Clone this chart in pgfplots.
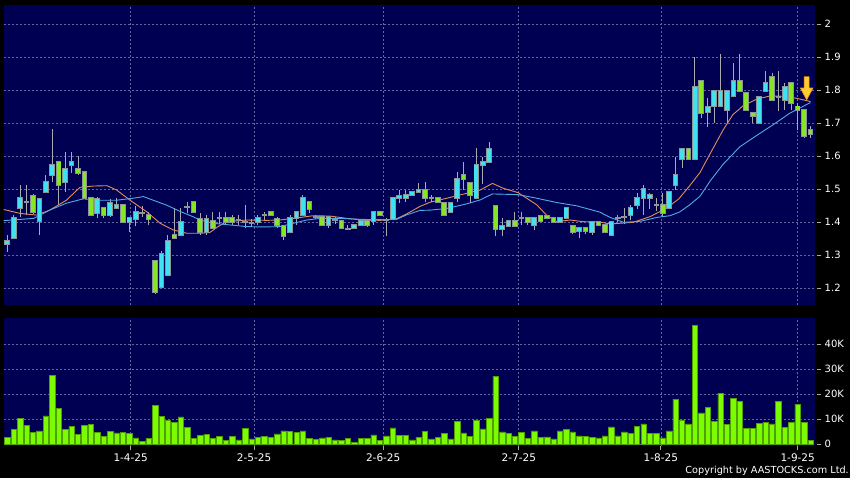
\documentclass[border=0pt]{standalone}
\usepackage{fontspec}
\setmainfont{DejaVu Sans}
\usepackage{pgfplots}
\pgfplotsset{compat=1.18}
\usepackage{pgfplotstable}

\definecolor{navy}{RGB}{0,0,82}
\definecolor{gridc}{RGB}{100,100,165}
\definecolor{upc}{RGB}{64,226,242}
\definecolor{dnc}{RGB}{135,230,35}
\definecolor{bordc}{RGB}{140,150,150}
\definecolor{wickc}{RGB}{170,170,175}
\definecolor{volc}{RGB}{124,252,0}
\definecolor{vold}{RGB}{80,160,0}
\definecolor{maor}{RGB}{230,140,90}
\definecolor{mabl}{RGB}{80,170,230}
\definecolor{gold}{RGB}{255,204,51}
\definecolor{goldd}{RGB}{235,150,20}
\definecolor{tickc}{RGB}{170,170,170}

% up (cyan) candles and dojis: i bodylow bodyhigh low high
\pgfplotstableread{
i lo hi wl wh
0 1.333 1.342 1.310 1.360
1 1.351 1.411 1.351 1.421
2 1.442 1.472 1.416 1.512
3 1.462 1.462 1.421 1.512
5 1.403 1.471 1.361 1.471
6 1.490 1.521 1.490 1.542
7 1.542 1.572 1.522 1.681
9 1.520 1.560 1.492 1.613
10 1.572 1.582 1.548 1.611
14 1.428 1.471 1.411 1.475
16 1.421 1.459 1.415 1.470
17 1.442 1.451 1.442 1.472
19 1.401 1.411 1.371 1.415
20 1.409 1.429 1.388 1.448
21 1.428 1.428 1.416 1.448
24 1.202 1.302 1.200 1.312
25 1.239 1.342 1.239 1.361
27 1.361 1.401 1.358 1.442
28 1.445 1.445 1.426 1.462
31 1.371 1.409 1.361 1.420
33 1.411 1.411 1.395 1.431
36 1.405 1.405 1.390 1.420
37 1.401 1.401 1.381 1.452
38 1.396 1.396 1.385 1.410
39 1.401 1.411 1.391 1.421
40 1.421 1.421 1.406 1.431
44 1.371 1.411 1.366 1.421
45 1.411 1.431 1.391 1.431
46 1.421 1.472 1.421 1.482
48 1.415 1.415 1.408 1.422
50 1.391 1.416 1.382 1.416
51 1.405 1.405 1.395 1.415
53 1.380 1.380 1.378 1.390
54 1.382 1.392 1.382 1.392
55 1.392 1.404 1.390 1.410
57 1.404 1.430 1.392 1.430
59 1.407 1.407 1.358 1.412
60 1.408 1.472 1.405 1.472
61 1.472 1.480 1.458 1.498
62 1.473 1.481 1.460 1.498
63 1.481 1.491 1.480 1.491
64 1.490 1.498 1.490 1.517
66 1.472 1.472 1.462 1.482
69 1.431 1.459 1.431 1.459
70 1.472 1.529 1.462 1.553
73 1.472 1.573 1.472 1.623
74 1.573 1.581 1.515 1.598
75 1.581 1.621 1.581 1.641
77 1.379 1.389 1.358 1.411
78 1.389 1.403 1.389 1.403
80 1.411 1.411 1.391 1.431
82 1.391 1.411 1.376 1.411
86 1.401 1.411 1.400 1.411
87 1.411 1.441 1.411 1.441
89 1.373 1.381 1.350 1.381
91 1.371 1.401 1.361 1.401
94 1.361 1.401 1.361 1.401
95 1.411 1.411 1.400 1.421
96 1.414 1.414 1.395 1.441
97 1.421 1.441 1.405 1.451
98 1.452 1.472 1.440 1.487
99 1.472 1.499 1.421 1.512
100 1.472 1.482 1.440 1.487
101 1.452 1.452 1.432 1.472
103 1.441 1.492 1.441 1.492
104 1.512 1.542 1.497 1.598
105 1.590 1.620 1.563 1.620
107 1.590 1.810 1.590 1.900
109 1.732 1.749 1.689 1.775
110 1.752 1.798 1.700 1.798
111 1.752 1.798 1.750 1.909
112 1.739 1.798 1.700 1.798
113 1.782 1.828 1.780 1.881
117 1.701 1.778 1.701 1.778
118 1.798 1.820 1.798 1.859
120 1.780 1.780 1.735 1.859
121 1.770 1.810 1.740 1.820
}\upt

% down (green) candles
\pgfplotstableread{
i lo hi wl wh
4 1.429 1.480 1.425 1.485
8 1.512 1.581 1.452 1.585
11 1.549 1.561 1.542 1.600
12 1.472 1.551 1.472 1.551
13 1.421 1.472 1.421 1.472
15 1.421 1.442 1.411 1.442
18 1.401 1.451 1.401 1.451
22 1.410 1.420 1.390 1.430
23 1.189 1.282 1.182 1.282
26 1.351 1.361 1.350 1.442
29 1.429 1.460 1.429 1.460
30 1.371 1.409 1.361 1.426
32 1.383 1.403 1.383 1.431
34 1.401 1.411 1.390 1.430
35 1.401 1.411 1.390 1.420
41 1.421 1.429 1.421 1.429
42 1.391 1.409 1.381 1.416
43 1.359 1.389 1.345 1.389
47 1.439 1.460 1.426 1.460
49 1.391 1.416 1.391 1.416
52 1.382 1.402 1.382 1.402
56 1.392 1.404 1.385 1.404
58 1.420 1.430 1.420 1.430
65 1.472 1.498 1.462 1.522
67 1.462 1.472 1.462 1.472
68 1.421 1.459 1.421 1.459
71 1.529 1.542 1.497 1.583
72 1.482 1.519 1.459 1.519
76 1.379 1.449 1.358 1.449
79 1.389 1.403 1.387 1.431
81 1.401 1.411 1.391 1.411
83 1.403 1.419 1.400 1.419
84 1.411 1.419 1.411 1.419
85 1.401 1.411 1.400 1.411
88 1.371 1.389 1.365 1.389
90 1.373 1.381 1.365 1.381
92 1.391 1.401 1.391 1.401
93 1.371 1.391 1.368 1.391
102 1.426 1.452 1.416 1.489
106 1.590 1.620 1.590 1.620
108 1.729 1.828 1.715 1.828
114 1.798 1.828 1.798 1.909
115 1.739 1.790 1.739 1.790
116 1.721 1.729 1.700 1.729
119 1.770 1.838 1.770 1.850
122 1.760 1.820 1.740 1.820
123 1.740 1.750 1.680 1.760
124 1.661 1.740 1.655 1.740
125 1.668 1.678 1.655 1.690
}\dnt

% volume in thousands
\pgfplotstableread{
i v
0 2.7
1 5.9
2 10.1
3 7.3
4 4.7
5 5.2
6 11.2
7 27.3
8 14.1
9 5.9
10 7.0
11 3.9
12 7.5
13 7.8
14 4.7
15 3.1
16 5.0
17 4.4
18 4.6
19 4.2
20 2.4
21 1.1
22 2.2
23 15.5
24 10.9
25 9.3
26 8.6
27 10.8
28 6.6
29 2.2
30 3.5
31 3.9
32 2.3
33 3.1
34 1.3
35 3.0
36 1.6
37 6.3
38 2.0
39 2.7
40 3.0
41 2.7
42 4.0
43 5.2
44 5.0
45 4.7
46 5.2
47 2.3
48 1.9
49 2.4
50 2.7
51 1.6
52 1.3
53 2.3
54 0.7
55 2.3
56 2.2
57 3.6
58 1.3
59 3.2
60 6.4
61 3.3
62 3.5
63 1.6
64 2.6
65 5.1
66 2.0
67 2.7
68 4.3
69 2.0
70 9.0
71 4.4
72 3.1
73 9.4
74 6.0
75 10.2
76 27.0
77 4.8
78 4.3
79 3.1
80 4.7
81 2.3
82 5.2
83 2.6
84 2.8
85 2.0
86 5.2
87 5.8
88 4.8
89 3.2
90 3.0
91 2.7
92 2.4
93 3.2
94 6.8
95 3.2
96 4.8
97 4.3
98 6.9
99 8.0
100 4.3
101 4.1
102 2.4
103 5.2
104 17.9
105 9.6
106 8.0
107 47.5
108 12.4
109 14.7
110 9.1
111 20.3
112 7.7
113 18.1
114 16.9
115 6.1
116 6.3
117 8.3
118 8.5
119 8.0
120 17.1
121 6.7
122 8.5
123 15.9
124 8.7
125 1.3
}\volt

\pgfplotsset{
  wick/.style={draw=none, mark=none, error bars/.cd, y dir=plus, y explicit, error mark=none,
    error bar style={wickc, line width=0.9pt}},
  bodyo/.style={draw=none, mark=none, error bars/.cd, y dir=plus, y explicit, error mark=none,
    error bar style={bordc, line width=5.6pt}},
  bodyi/.style={draw=none, mark=none, error bars/.cd, y dir=plus, y explicit, error mark=none,
    error bar style={#1, line width=3.8pt}},
  chartbase/.style={
    scale only axis, anchor=south west, width=811.2pt,
    xmin=-0.59, xmax=125.65,
    axis background/.style={fill=navy},
    axis line style={draw=none},
    xtick={19.2,38.4,58.5,79.6,101.7,123.0},
    xmajorgrids, ymajorgrids,
    grid style={gridc, dash pattern=on 2pt off 2pt, line width=0.6pt},
    ytick pos=right, yticklabel pos=right,
    tick align=outside, major tick length=4pt,
    ytick style={tickc, line width=0.8pt, xshift=2.5pt},
    ticklabel style={font=\fontsize{10}{12}\selectfont, text=white},
    yticklabel style={anchor=west, xshift=2.5pt},
  },
}

\begin{document}
\begin{tikzpicture}
\fill[black] (0pt,0pt) rectangle (850pt,478pt);
\useasboundingbox (0pt,0pt) rectangle (850pt,478pt);

% price panel
\begin{axis}[chartbase, at={(3.5pt,173pt)}, height=300pt,
  ymin=1.1485, ymax=2.0576,
  ytick={1.2,1.3,1.4,1.5,1.6,1.7,1.8,1.9,2},
  yticklabels={1.2,1.3,1.4,1.5,1.6,1.7,1.8,1.9,2},
  xticklabels={}, xtick style={draw=none}]
\addplot[wick] table[x=i, y=wl, y error plus expr=\thisrow{wh}-\thisrow{wl}] {\upt};
\addplot[wick] table[x=i, y=wl, y error plus expr=\thisrow{wh}-\thisrow{wl}] {\dnt};
\addplot[maor, line width=0.9pt] coordinates {
(-0.59,1.438) (2,1.426) (4.6,1.421) (6.6,1.436) (9.2,1.466) (11.3,1.505) (13.4,1.509)
(15.5,1.510) (17,1.497) (19.1,1.466) (21.7,1.431) (23.8,1.396) (25.8,1.376) (27.9,1.366)
(30,1.366) (31.5,1.368) (32.8,1.386) (34.1,1.401) (37.3,1.406) (40.4,1.405) (42.4,1.406)
(44.5,1.411) (47.6,1.419) (50.2,1.418) (52.8,1.411) (55.4,1.406) (58,1.405) (60.5,1.409)
(62.2,1.425) (64.2,1.447) (65.8,1.460) (68.4,1.472) (71.5,1.487) (73.6,1.497) (75.5,1.517)
(77.2,1.502) (79.5,1.489) (82.4,1.452) (83.9,1.421) (85.5,1.401) (87.6,1.406) (89.6,1.401)
(92.2,1.400) (93.8,1.394) (97.4,1.399) (100,1.416) (102.6,1.442) (104.5,1.470) (106.2,1.510)
(107.8,1.550) (109.4,1.608) (111.4,1.679) (112.9,1.725) (114.5,1.752) (116.6,1.772)
(118.7,1.782) (120.8,1.781) (122.8,1.775) (125,1.765)};
\addplot[mabl, line width=0.9pt] coordinates {
(-0.59,1.404) (4.1,1.411) (6.6,1.436) (9.2,1.457) (11.8,1.470) (14.4,1.466) (17,1.466)
(19.6,1.472) (21.2,1.477) (22.7,1.466) (24.8,1.451) (26.9,1.432) (28.9,1.416) (30,1.406)
(32.1,1.396) (34.7,1.391) (37.3,1.386) (39.8,1.385) (42.4,1.386) (44.5,1.396) (46.6,1.406)
(48.7,1.411) (51.8,1.411) (54.9,1.408) (58,1.407) (60.6,1.408) (62.2,1.422) (64.2,1.435)
(65.8,1.436) (68.4,1.441) (71.5,1.455) (73.6,1.467) (75.5,1.485) (79.5,1.483) (82.4,1.472)
(85.5,1.459) (88.6,1.449) (90.7,1.438) (92.2,1.430) (93.8,1.414) (95.9,1.399) (98.5,1.402)
(101.1,1.414) (103.1,1.419) (104.6,1.430) (106.2,1.452) (107.8,1.478) (109.4,1.525)
(111.4,1.575) (114,1.628) (116.6,1.662) (119.2,1.695) (121.8,1.730) (125,1.762)};
\addplot[bodyo] table[x=i, y expr=\thisrow{lo}-0.003, y error plus expr=\thisrow{hi}-\thisrow{lo}+0.006] {\upt};
\addplot[bodyo] table[x=i, y expr=\thisrow{lo}-0.003, y error plus expr=\thisrow{hi}-\thisrow{lo}+0.006] {\dnt};
\addplot[bodyi=upc] table[x=i, y=lo, y error plus expr=\thisrow{hi}-\thisrow{lo}] {\upt};
\addplot[bodyi=dnc] table[x=i, y=lo, y error plus expr=\thisrow{hi}-\thisrow{lo}] {\dnt};
% marker arrow
\addplot[fill=gold, draw=goldd, line width=0.6pt] coordinates {
(124.02,1.840) (124.78,1.840) (124.78,1.806) (125.38,1.806) (124.4,1.770)
(123.42,1.806) (124.02,1.806)} -- cycle;
\end{axis}

% volume panel
\begin{axis}[chartbase, at={(3.5pt,32pt)}, height=128pt,
  ymin=-0.8, ymax=50.4,
  ytick={0,10,20,30,40}, yticklabels={0,10K,20K,30K,40K},
  xticklabels={1-4-25,2-5-25,2-6-25,2-7-25,1-8-25,1-9-25},
  xtick pos=bottom, xtick style={tickc, line width=0.8pt},
  xticklabel style={font=\fontsize{10.5}{12}\selectfont},
  ybar, bar width=5.4pt]
\addplot[fill=volc, draw=vold, line width=0.5pt] table[x=i, y=v] {\volt};
\end{axis}

\node[anchor=base east, text=white, font=\fontsize{9.7}{11}\selectfont, inner sep=0pt]
  at (849pt,4pt) {Copyright by AASTOCKS.com Ltd.};
\end{tikzpicture}
\end{document}
